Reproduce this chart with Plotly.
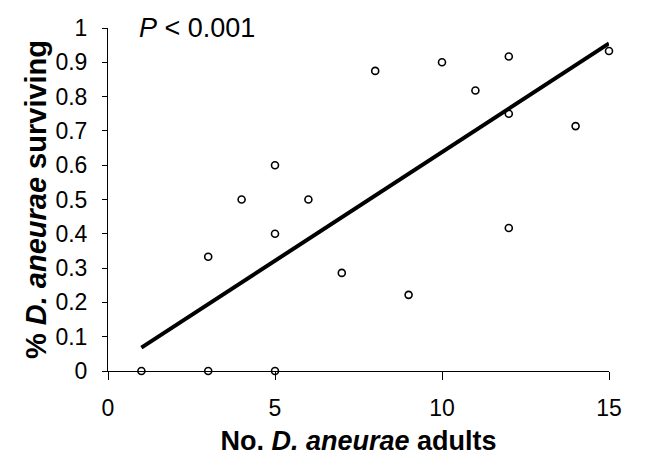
import plotly.graph_objects as go

# Data
adults = [1, 3, 3, 4, 5, 5, 5, 6, 7, 8, 9, 10, 11, 12, 12, 12, 14, 15]
surviving = [0.0, 0.0, 0.333, 0.5, 0.0, 0.4, 0.6, 0.5, 0.286, 0.875, 0.222,
             0.9, 0.818, 0.917, 0.75, 0.417, 0.714, 0.933]
fit_x = [1, 15]
fit_y = [0.068, 0.955]
x_ticks = [0, 5, 10, 15]
y_ticks = [0, 0.1, 0.2, 0.3, 0.4, 0.5, 0.6, 0.7, 0.8, 0.9, 1]
y_tick_labels = ["0", "0.1", "0.2", "0.3", "0.4", "0.5", "0.6", "0.7", "0.8", "0.9", "1"]

FONT = "Liberation Sans, Arial, sans-serif"

fig = go.Figure()
fig.add_trace(go.Scatter(
    x=fit_x, y=fit_y, mode="lines",
    line=dict(color="black", width=4),
    showlegend=False, cliponaxis=False,
))
fig.add_trace(go.Scatter(
    x=adults, y=surviving, mode="markers",
    marker=dict(symbol="circle-open", size=7, color="black", line=dict(width=1.6)),
    showlegend=False, cliponaxis=False,
))

fig.update_layout(
    width=651, height=455,
    margin=dict(l=100, r=50, t=20, b=92),
    paper_bgcolor="white", plot_bgcolor="white",
    font=dict(family=FONT, size=23, color="black"),
    xaxis=dict(
        range=[0, 15], tickvals=x_ticks, ticktext=[str(v) for v in x_ticks],
        showgrid=False, zeroline=False, showline=True, linecolor="black", linewidth=1,
        ticks="outside", ticklen=8, tickwidth=1, tickcolor="black",
        ticklabelstandoff=8, automargin=False,
        title=dict(text="<b>No. <i>D. aneurae</i> adults</b>", font=dict(size=27), standoff=11),
    ),
    yaxis=dict(
        range=[0, 1], tickvals=y_ticks, ticktext=y_tick_labels,
        showgrid=False, zeroline=False, showline=True, linecolor="black", linewidth=1,
        ticks="outside", ticklen=5, tickwidth=1, tickcolor="black",
        ticklabelstandoff=10, automargin=False,
        title=dict(text="<b>% <i>D. aneurae</i> surviving</b>", font=dict(size=29), standoff=0),
    ),
    annotations=[dict(
        x=0, y=1, xref="paper", yref="paper", xanchor="left", yanchor="middle",
        xshift=29, yshift=0,
        text="<i>P</i> < 0.001", showarrow=False, font=dict(size=27),
    )],
)

fig.write_html("out.html")
